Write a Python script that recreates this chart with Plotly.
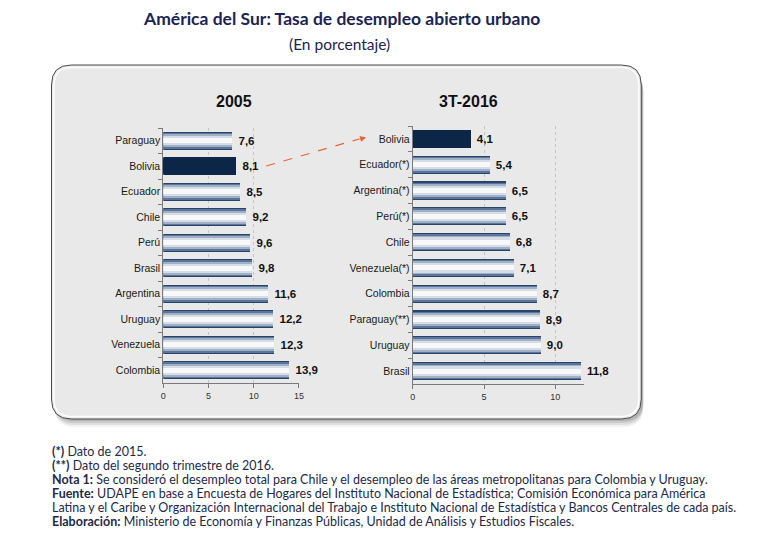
import plotly.graph_objects as go

W, H = 766, 536

# ---------------- data ----------------
cat_2005 = ["Paraguay", "Bolivia", "Ecuador", "Chile", "Perú", "Brasil",
            "Argentina", "Uruguay", "Venezuela", "Colombia"]
val_2005 = [7.6, 8.1, 8.5, 9.2, 9.6, 9.8, 11.6, 12.2, 12.3, 13.9]

cat_2016 = ["Bolivia", "Ecuador(*)", "Argentina(*)", "Perú(*)", "Chile",
            "Venezuela(*)", "Colombia", "Paraguay(**)", "Uruguay", "Brasil"]
val_2016 = [4.1, 5.4, 6.5, 6.5, 6.8, 7.1, 8.7, 8.9, 9.0, 11.8]

ticks_2005 = [0, 5, 10, 15]
ticks_2016 = [0, 5, 10]

title = "América del Sur: Tasa de desempleo abierto urbano"
subtitle = "(En porcentaje)"
panel_titles = ["2005", "3T-2016"]
highlight = "Bolivia"

notes = [
    ("(*)", " Dato de 2015."),
    ("(**)", " Dato del segundo trimestre de 2016."),
    ("Nota 1:", " Se consideró el desempleo total para Chile y el desempleo de las áreas metropolitanas para Colombia y Uruguay."),
    ("Fuente:", " UDAPE en base a Encuesta de Hogares del Instituto Nacional de Estadística; Comisión Económica para América"),
    ("", "Latina y el Caribe y Organización Internacional del Trabajo e Instituto Nacional de Estadística y Bancos Centrales de cada país."),
    ("Elaboración:", " Ministerio de Economía y Finanzas Públicas, Unidad de Análisis y Estudios Fiscales."),
]

# ---------------- helpers ----------------
def X(px):
    return px / W

def Y(py):
    return 1 - py / H

def fmt(v):
    return "<b>\u00a0" + f"{v:.1f}".replace(".", ",") + "</b>"

# gradient-like layering for bars (outer dark edge to light centre)
layers = [(0.70, "#27456a"), (0.62, "#5a7599"), (0.51, "#a0b0c5"),
          (0.37, "#d6dde6"), (0.20, "#f7f8fa")]
HL = "#0c2647"

fig = go.Figure()

def add_bars(cats, vals, xa, ya):
    for i, (w, c) in enumerate(layers):
        colors = [HL if cat == highlight else c for cat in cats]
        fig.add_trace(go.Bar(
            y=cats, x=vals, orientation="h", width=w,
            marker=dict(color=colors, line=dict(width=0)),
            text=[fmt(v) for v in vals] if i == 0 else None,
            textposition="outside" if i == 0 else "none",
            textfont=dict(family="Liberation Sans, Arial", size=11.5, color="#111111"),
            cliponaxis=False, showlegend=False, hoverinfo="skip",
            xaxis=xa, yaxis=ya,
        ))

add_bars(cat_2005, val_2005, "x", "y")
add_bars(cat_2016, val_2016, "x2", "y2")

axis_font = dict(family="Liberation Sans, Arial", size=9, color="#333333")
cat_font = dict(family="Liberation Sans, Arial", size=10.5, color="#1a1a1a")

common_x = dict(showline=True, linecolor="#7a7a7a", linewidth=1, ticks="outside",
                ticklen=4, tickcolor="#7a7a7a", tickfont=axis_font, showgrid=True,
                gridcolor="#c4c4c4", griddash="dot", gridwidth=1, zeroline=False,
                fixedrange=True)
common_y = dict(type="category", autorange="reversed", showline=True, linecolor="#7a7a7a",
                linewidth=1, ticks="outside", ticklen=4, tickcolor="#7a7a7a",
                tickson="boundaries", tickfont=cat_font, showgrid=False, fixedrange=True)

# ---------------- panel shapes ----------------
def rrect(x0, y0, x1, y1, r):
    rx, ry = r / W, r / H
    a, b, c, d = X(x0), Y(y0), X(x1), Y(y1)  # b top, d bottom (paper)
    return (f"M {a+rx},{b} L {c-rx},{b} Q {c},{b} {c},{b-ry} "
            f"L {c},{d+ry} Q {c},{d} {c-rx},{d} L {a+rx},{d} Q {a},{d} {a},{d+ry} "
            f"L {a},{b-ry} Q {a},{b} {a+rx},{b} Z")

shapes = []
# soft shadow under the panel
for off, op in [(8, 0.07), (6, 0.10), (4, 0.14), (2, 0.18)]:
    shapes.append(dict(type="path", xref="paper", yref="paper", layer="below",
                       path=rrect(52, 72, 647, 419 + off, 20),
                       fillcolor=f"rgba(70,70,70,{op})", line=dict(width=0)))
shapes.append(dict(type="path", xref="paper", yref="paper", layer="below",
                   path=rrect(49, 65, 645, 419, 20),
                   fillcolor="#e9e9e9", line=dict(color="#4a4a4a", width=1)))
shapes.append(dict(type="path", xref="paper", yref="paper", layer="below",
                   path=rrect(51.5, 67.5, 642.5, 416.5, 18),
                   fillcolor="rgba(0,0,0,0)", line=dict(color="rgba(255,255,255,0.9)", width=1.5)))
# dashed arrow from Bolivia 2005 to Bolivia 2016
shapes.append(dict(type="line", xref="paper", yref="paper",
                   x0=X(266), y0=Y(166), x1=X(360), y1=Y(139),
                   line=dict(color="#e8643a", width=1.2, dash="dash")))

annotations = [
    dict(text=f"<b>{title}</b>", x=X(342), y=Y(19), xref="paper", yref="paper",
         yanchor="middle", showarrow=False, font=dict(family="Lato", size=17.5, color="#1b2452")),
    dict(text=subtitle, x=X(340), y=Y(44), xref="paper", yref="paper",
         yanchor="middle", showarrow=False, font=dict(family="Lato", size=15.5, color="#1b2452")),
    dict(text=f"<b>{panel_titles[0]}</b>", x=X(213), y=Y(101), xref="paper", yref="paper",
         yanchor="middle", showarrow=False,
         font=dict(family="Liberation Sans, Arial", size=16, color="#111111")),
    dict(text=f"<b>{panel_titles[1]}</b>", x=X(470), y=Y(101), xref="paper", yref="paper",
         yanchor="middle", showarrow=False,
         font=dict(family="Liberation Sans, Arial", size=16, color="#111111")),
    dict(text="", x=X(367), y=Y(137.5), xref="paper", yref="paper", showarrow=True,
         ax=-8, ay=2, arrowhead=2, arrowsize=1, arrowwidth=1.2, arrowcolor="#e8643a"),
]

for i, (bold, rest) in enumerate(notes):
    txt = (f"<b>{bold}</b>" if bold else "") + rest
    annotations.append(dict(text=txt, x=X(47), y=Y(451 + 14 * i), xref="paper", yref="paper",
                            xanchor="left", yanchor="middle", showarrow=False, align="left",
                            font=dict(family="Lato", size=12.5, color="#1e2a48")))

fig.update_layout(
    width=W, height=H, margin=dict(l=0, r=0, t=0, b=0),
    paper_bgcolor="white", plot_bgcolor="rgba(0,0,0,0)",
    barmode="overlay", bargap=0,
    xaxis=dict(domain=[X(162), X(299)], range=[0, 15], tickvals=ticks_2005,
               anchor="y", **common_x),
    yaxis=dict(domain=[Y(383), Y(128)], anchor="x", categoryorder="array",
               categoryarray=cat_2005, **common_y),
    xaxis2=dict(domain=[X(414), X(587)], range=[0, 12], tickvals=ticks_2016,
                anchor="y2", **common_x),
    yaxis2=dict(domain=[Y(384), Y(126)], anchor="x2", categoryorder="array",
                categoryarray=cat_2016, **common_y),
    shapes=shapes, annotations=annotations,
)

fig.write_html("out.html", config={"displayModeBar": False},
               post_script="document.body.style.margin='0px';")
